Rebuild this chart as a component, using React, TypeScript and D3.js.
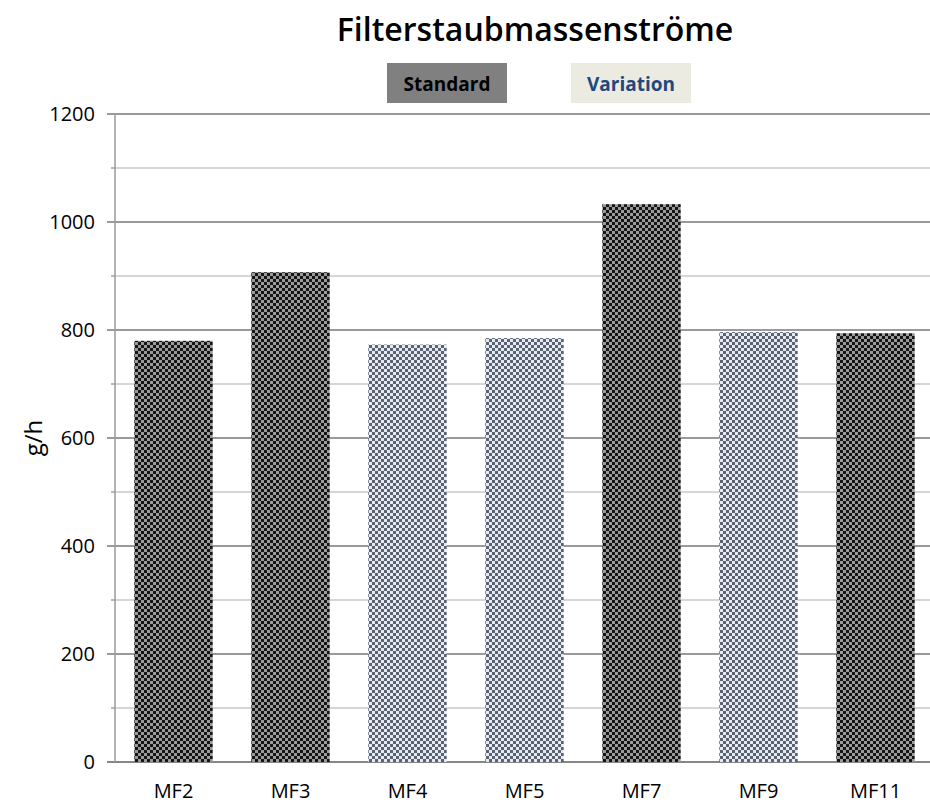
import React from "react";
import * as d3 from "d3";

// chart data
const categories = ["MF2", "MF3", "MF4", "MF5", "MF7", "MF9", "MF11"];
const values = [780, 907, 773, 785, 1033, 796, 794];
const series = ["Standard", "Standard", "Variation", "Variation", "Standard", "Variation", "Standard"];
const yTicks = [0, 200, 400, 600, 800, 1000, 1200];
const yMinorTicks = [100, 300, 500, 700, 900, 1100];

const FONT = "'Open Sans', 'Noto Sans', sans-serif";

const App: React.FC = () => {
  const width = 930;
  const height = 803;
  const margin = { top: 114, right: -4, bottom: 41, left: 115 };

  const x = d3
    .scaleBand<string>()
    .domain(categories)
    .range([margin.left, width - margin.right])
    .paddingInner(0.33)
    .paddingOuter(0.165);

  const y = d3
    .scaleLinear()
    .domain([0, 1200])
    .range([height - margin.bottom, margin.top]);

  const x0 = margin.left;
  const x1 = width;

  return (
    <svg
      width={width}
      height={height}
      style={{ position: "absolute", left: 0, top: 0, background: "#fff" }}
      fontFamily={FONT}
    >
      <defs>
        {/* dark checker for Standard */}
        <pattern id="chkDark" width={6} height={6} patternUnits="userSpaceOnUse">
          <rect width={6} height={6} fill="#9a9a9a" />
          <rect x={0} y={0} width={3} height={3} fill="#151515" />
          <rect x={3} y={3} width={3} height={3} fill="#151515" />
        </pattern>
        {/* light checker for Variation */}
        <pattern id="chkLight" width={6} height={6} patternUnits="userSpaceOnUse">
          <rect width={6} height={6} fill="#e6ebf3" />
          <rect x={0} y={0} width={3} height={3} fill="#5b6270" />
          <rect x={3} y={3} width={3} height={3} fill="#5b6270" />
        </pattern>
      </defs>

      {/* title */}
      <text x={535} y={41} textAnchor="middle" fontSize={32} fontWeight={600} fill="#000">
        Filterstaubmassenströme
      </text>

      {/* legend */}
      <rect x={387} y={63} width={120} height={40} fill="#808080" />
      <text x={447} y={91} textAnchor="middle" fontSize={19} fontWeight={700} fill="#000">
        Standard
      </text>
      <rect x={571} y={63} width={120} height={40} fill="#ecebe2" />
      <text x={631} y={91} textAnchor="middle" fontSize={19} fontWeight={700} fill="#1f497d">
        Variation
      </text>

      {/* minor gridlines */}
      {yMinorTicks.map((t) => (
        <g key={`m${t}`}>
          <line x1={x0} x2={x1} y1={y(t)} y2={y(t)} stroke="#c8c8c8" strokeWidth={1.5} />
          <line x1={x0 - 4} x2={x0} y1={y(t)} y2={y(t)} stroke="#a0a0a0" strokeWidth={1.5} />
        </g>
      ))}

      {/* major gridlines and labels */}
      {yTicks.map((t) => (
        <g key={`t${t}`}>
          <line
            x1={x0 - 8}
            x2={x1}
            y1={y(t)}
            y2={y(t)}
            stroke={t === 0 ? "#868686" : "#9a9a9a"}
            strokeWidth={t === 0 ? 2 : 1.8}
          />
          <text x={95} y={y(t) + 7} textAnchor="end" fontSize={20} fill="#000">
            {t}
          </text>
        </g>
      ))}

      {/* y axis line */}
      <line x1={x0} x2={x0} y1={y(1200)} y2={y(0)} stroke="#9a9a9a" strokeWidth={1.5} />

      {/* bars */}
      {categories.map((c, i) => (
        <rect
          key={c}
          x={x(c)}
          y={y(values[i])}
          width={x.bandwidth()}
          height={y(0) - y(values[i])}
          fill={series[i] === "Standard" ? "url(#chkDark)" : "url(#chkLight)"}
        />
      ))}

      {/* x labels */}
      {categories.map((c) => (
        <text
          key={`l${c}`}
          x={(x(c) as number) + x.bandwidth() / 2}
          y={798}
          textAnchor="middle"
          fontSize={20}
          fill="#000"
        >
          {c}
        </text>
      ))}

      {/* y label */}
      <text
        transform={`translate(42, ${y(600)}) rotate(-90)`}
        textAnchor="middle"
        fontSize={24}
        fill="#000"
      >
        g/h
      </text>
    </svg>
  );
};

export default App;
